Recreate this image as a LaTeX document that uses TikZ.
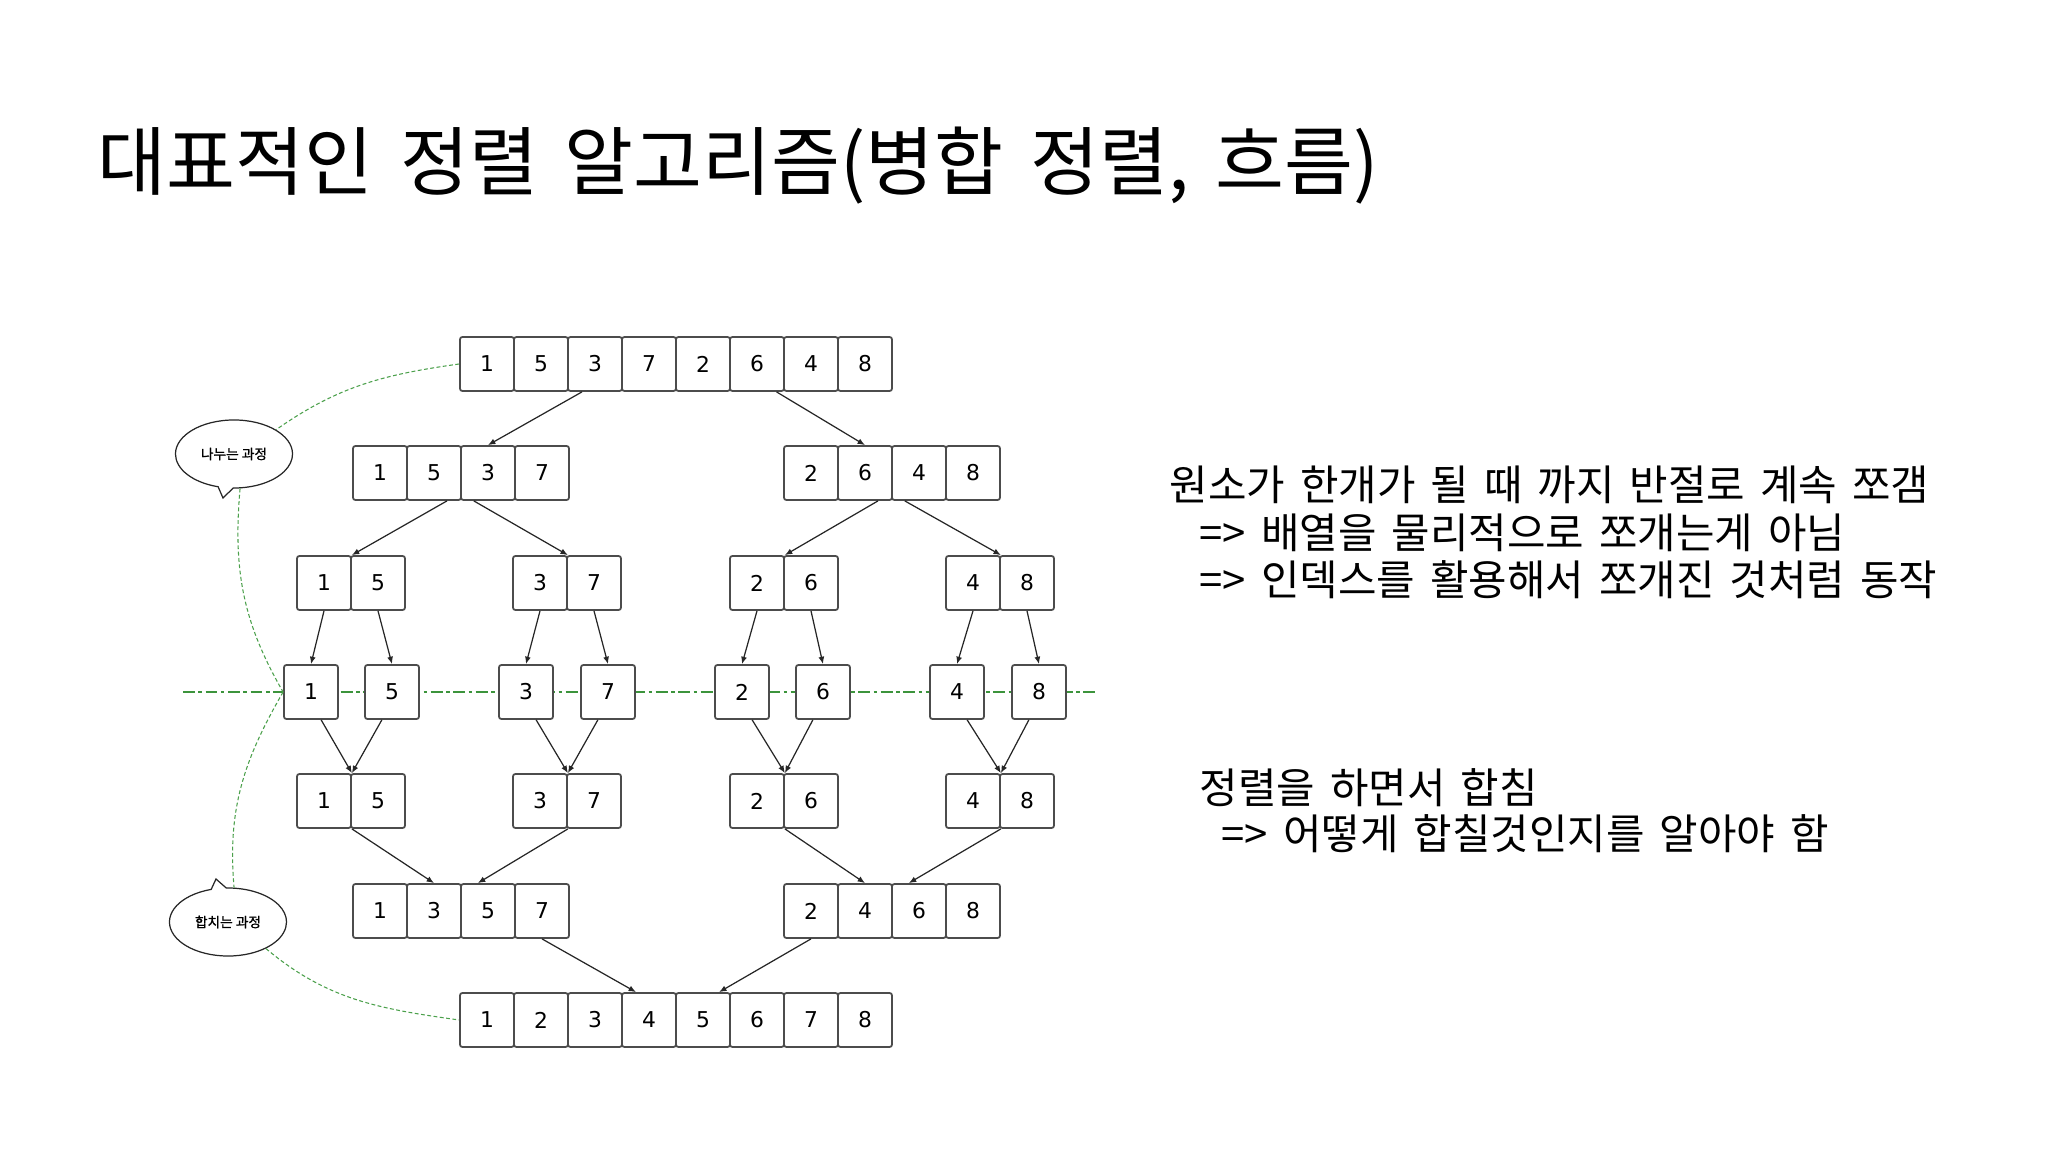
\documentclass[tikz,border=0pt]{standalone}
\usepackage{fontspec}
\setmainfont{DejaVu Sans}
\newfontfamily\kor[WordSpace=1.6]{Noto Sans CJK KR}
\newfontfamily\korbold[FakeBold=1.2]{Noto Sans CJK KR}
\usetikzlibrary{arrows.meta,shapes.callouts}

\definecolor{cutgreen}{RGB}{60,148,60}
\definecolor{waygreen}{RGB}{75,160,75}

\tikzset{
	cell/.style={draw=black!70, line width=0.5pt, fill=white, rounded corners=0.7pt,
		minimum width=0.54cm, minimum height=0.54cm, inner sep=0pt,
		font=\fontsize{6.2}{7}\selectfont},
	arr/.style={-{Latex[length=2.1pt,width=1.7pt]}, line width=0.35pt, black!85},
	bubble/.style={ellipse callout, draw=black!85, line width=0.35pt, fill=white,
		minimum width=1.17cm, minimum height=0.68cm, inner sep=0pt,
		font=\korbold\fontsize{3.9}{4.5}\selectfont},
	way/.style={waygreen, line width=0.3pt, dash pattern=on 1.1pt off 0.7pt},
	cut/.style={cutgreen, line width=0.3pt, dash pattern=on 3.4pt off 1pt on 1pt off 1pt},
	note/.style={anchor=base west, inner sep=0pt, font=\kor\fontsize{11.9}{14}\selectfont},
}

% one array of cells: name, left edge, row, values
\newcommand{\cells}[4]{%
	\foreach \val [count=\k] in {#4}
	{
		\node[cell] (#1\k) at ({#2 + \cellsize / 2 + \cellsize * (\k - 1)}, -#3) {\val};
	}
}

\begin{document}
\begin{tikzpicture}[x=0.01cm, y=0.01cm]

		\useasboundingbox (0, 0) rectangle (2048, -1152);

		\pgfmathsetmacro{\cellsize}{54}

		% title
		\node[anchor=base west, inner sep=0pt, font=\kor\fontsize{21.3}{25}\selectfont]
			(title) at (97, -190) {대표적인 정렬 알고리즘(병합 정렬, 흐름)};

		% the cut between splitting and merging
		\coordinate (cutL) at (183, -692);
		\coordinate (cutR) at (1095, -692);
		\draw[cut] (cutL) -- (cutR);

		% split rows
		\cells{top}{460}{364}{1, 5, 3, 7, 2, 6, 4, 8}
		\cells{hl}{353}{473}{1, 5, 3, 7}
		\cells{hr}{784}{473}{2, 6, 4, 8}
		\cells{qa}{297}{583}{1, 5}
		\cells{qb}{513}{583}{3, 7}
		\cells{qc}{730}{583}{2, 6}
		\cells{qd}{946}{583}{4, 8}

		% single cells
		\foreach \x/\val [count=\k] in {311/1, 392/5, 526/3, 608/7, 742/2, 823/6, 957/4, 1039/8}
		{
			\node[cell] (one\k) at (\x, -692) {\val};
		}

		% merge rows
		\cells{ma}{297}{801}{1, 5}
		\cells{mb}{513}{801}{3, 7}
		\cells{mc}{730}{801}{2, 6}
		\cells{md}{946}{801}{4, 8}
		\cells{ml}{353}{911}{1, 3, 5, 7}
		\cells{mr}{784}{911}{2, 4, 6, 8}
		\cells{res}{460}{1020}{1, 2, 3, 4, 5, 6, 7, 8}

		% split arrows
		\draw[arr] (top3.-115) -- (hl3.north);
		\draw[arr] (top6.-55) -- (hr2.north);
		\draw[arr] (hl2.-65) -- (qa1.north east);
		\draw[arr] (hl3.-117) -- (qb1.north east);
		\draw[arr] (hr2.-65) -- (qc1.north east);
		\draw[arr] (hr3.-117) -- (qd1.north east);
		\foreach \p/\a/\b in {qa/1/2, qb/3/4, qc/5/6, qd/7/8}
		{
			\draw[arr] (\p1.south) -- (one\a.north);
			\draw[arr] (\p2.south) -- (one\b.north);
		}

		% merge arrows
		\foreach \p/\a/\b in {ma/1/2, mb/3/4, mc/5/6, md/7/8}
		{
			\draw[arr] (one\a.-70) -- (\p1.north east);
			\draw[arr] (one\b.-110) -- (\p1.north east);
		}
		\draw[arr] (ma1.south east) -- (ml2.north);
		\draw[arr] (mb1.south east) -- (ml3.110);
		\draw[arr] (mc1.south east) -- (mr2.north);
		\draw[arr] (md1.south east) -- (mr3.110);
		\draw[arr] (ml4.south) -- (res4.115);
		\draw[arr] (mr1.south) -- (res5.60);

		% speech bubbles
		\node[bubble, callout absolute pointer={(223, -498)}] (split) at (234, -454) {나누는 과정};
		\node[bubble, callout absolute pointer={(216, -879)}] (merge) at (228, -922) {합치는 과정};

		\draw[way] (top1.west) to[out=188, in=35] (split.30);
		\draw[way] (split.-80) to[out=265, in=120] (one1.west);
		\draw[way] (one1.west) to[out=240, in=95] (merge.80);
		\draw[way] (merge.-35) to[out=-40, in=172] (res1.west);

		% notes
		\node[note] (note1) at (1169, -501) {원소가 한개가 될 때 까지 반절로 계속 쪼갬};
		\node[note] (note2) at (1199, -548) {=> 배열을 물리적으로 쪼개는게 아님};
		\node[note] (note3) at (1199, -596) {=> 인덱스를 활용해서 쪼개진 것처럼 동작};
		\node[note] (note4) at (1199, -803) {정렬을 하면서 합침};
		\node[note] (note5) at (1221, -849) {=> 어떻게 합칠것인지를 알아야 함};

\end{tikzpicture}
\end{document}
